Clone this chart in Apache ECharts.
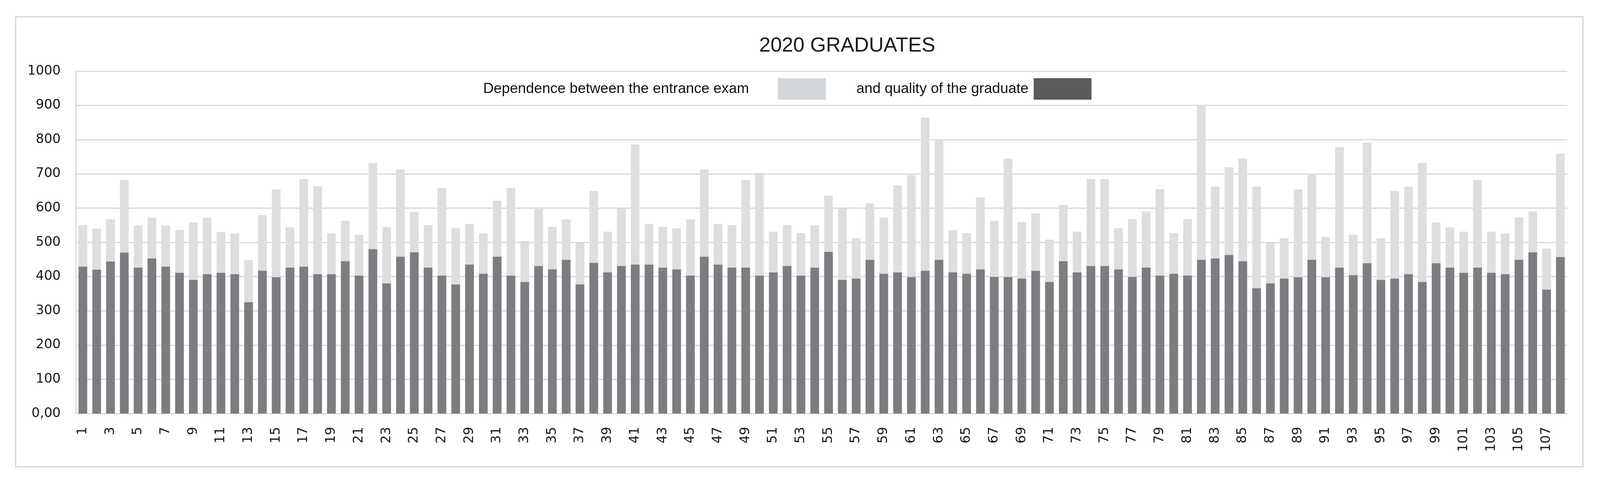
<!DOCTYPE html>
<html>
<head>
<meta charset="utf-8">
<script src="https://cdn.jsdelivr.net/npm/echarts@6/dist/echarts.min.js"></script>
<style>
html,body{margin:0;padding:0;background:#fff;overflow:hidden;}
#chart{width:100vw;height:100vh;}
</style>
</head>
<body>
<div id="chart"></div>
<script>
const titleText = '2020 GRADUATES';
const seriesNames = ['Dependence between the entrance exam', 'and quality of the graduate'];
const categories = [];
for (let i = 1; i <= 108; i++) categories.push(String(i));
const yTickLabels = ['0,00','100','200','300','400','500','600','700','800','900','1000'];

const entranceExam = [
  550,540,567,682,549,572,549,536,558,572,530,526,448,580,655,544,685,664,
  526,563,522,732,545,713,589,550,659,541,554,526,622,659,504,597,545,567,
  498,650,531,599,786,554,545,541,567,713,554,550,682,703,531,550,527,550,
  636,599,512,614,572,667,696,864,799,536,527,631,563,745,559,585,508,
  609,531,685,685,541,568,590,655,527,568,902,663,719,745,663,498,512,
  655,700,516,778,522,791,512,650,663,732,558,544,531,682,531,526,573,590,482,759
];
const graduateQuality = [
  429,420,444,470,426,453,429,411,390,407,411,407,325,417,398,426,429,407,
  407,445,403,480,380,458,471,426,403,377,435,408,458,403,384,431,421,449,
  377,440,412,431,435,435,426,421,403,458,435,426,426,403,412,431,403,426,
  472,390,394,449,408,412,399,417,449,412,408,421,399,399,394,417,384,
  445,412,431,431,421,399,426,403,408,403,449,453,463,445,366,380,394,
  398,449,398,426,404,439,390,394,407,384,439,426,411,426,411,407,449,471,362,457
];

const el = document.getElementById('chart');
const W = window.innerWidth || 4402;
const H = window.innerHeight || 1228;
el.style.width = W + 'px';
el.style.height = H + 'px';
const sx = W / 4402, sy = H / 1228, sf = Math.min(sx, sy);
const X = v => v * sx, Y = v => v * sy, F = v => v * sf;

const chart = echarts.init(el, null, {renderer: 'canvas', width: W, height: H});
const gridColor = '#d9d9d9';
const labelFont = 'DejaVu Sans';
const textFont = 'Liberation Sans';

chart.setOption({
  backgroundColor: '#ffffff',
  animation: false,
  title: {
    text: titleText,
    left: X(2331),
    textAlign: 'center',
    top: Y(92),
    padding: 0,
    textStyle: {fontFamily: textFont, fontSize: F(56), fontWeight: 'normal', color: '#1a1a1a'}
  },
  graphic: [{
    type: 'rect',
    shape: {x: X(43), y: Y(43), width: X(4312), height: Y(1151)},
    style: {fill: 'none', stroke: gridColor, lineWidth: F(4)},
    silent: true
  }],
  legend: [{
    data: [{name: seriesNames[0], itemStyle: {color: '#d3d6d8'}}],
    right: X(2130),
    top: Y(200),
    padding: 0,
    align: 'right',
    icon: 'rect',
    itemWidth: X(132),
    itemHeight: Y(55),
    selectedMode: false,
    textStyle: {fontFamily: textFont, fontSize: F(40), color: '#111', padding: [0, X(74), 0, 0]}
  }, {
    data: [{name: seriesNames[1], itemStyle: {color: '#595b5d'}}],
    right: X(1399),
    top: Y(200),
    padding: 0,
    align: 'right',
    icon: 'rect',
    itemWidth: X(159),
    itemHeight: Y(55),
    selectedMode: false,
    textStyle: {fontFamily: textFont, fontSize: F(40), color: '#111', padding: [0, X(9), 0, 0]}
  }],
  grid: {left: X(209), right: X(90), top: Y(182), bottom: Y(170), containLabel: false},
  xAxis: {
    type: 'category',
    data: categories,
    axisTick: {show: false},
    axisLine: {show: true, lineStyle: {color: gridColor, width: F(3)}},
    axisLabel: {
      interval: 1, rotate: 90, margin: Y(34),
      fontFamily: labelFont, fontSize: F(36), color: '#1a1a1a'
    }
  },
  yAxis: {
    type: 'value',
    min: 0, max: 1000, interval: 100,
    axisLine: {show: true, lineStyle: {color: gridColor, width: F(3)}},
    axisTick: {show: false},
    splitLine: {show: true, lineStyle: {color: gridColor, width: F(3)}},
    axisLabel: {
      margin: X(42), fontFamily: labelFont, fontSize: F(36), color: '#1a1a1a',
      formatter: function (v) { return yTickLabels[Math.round(v / 100)]; }
    }
  },
  series: [{
    name: seriesNames[0],
    type: 'bar',
    data: entranceExam,
    barGap: '-100%',
    barCategoryGap: '37%',
    itemStyle: {color: '#dcdee0'},
    z: 2
  }, {
    name: seriesNames[1],
    type: 'bar',
    data: graduateQuality,
    barGap: '-100%',
    barCategoryGap: '37%',
    itemStyle: {color: '#7b7d80'},
    z: 3
  }]
});
</script>
</body>
</html>
